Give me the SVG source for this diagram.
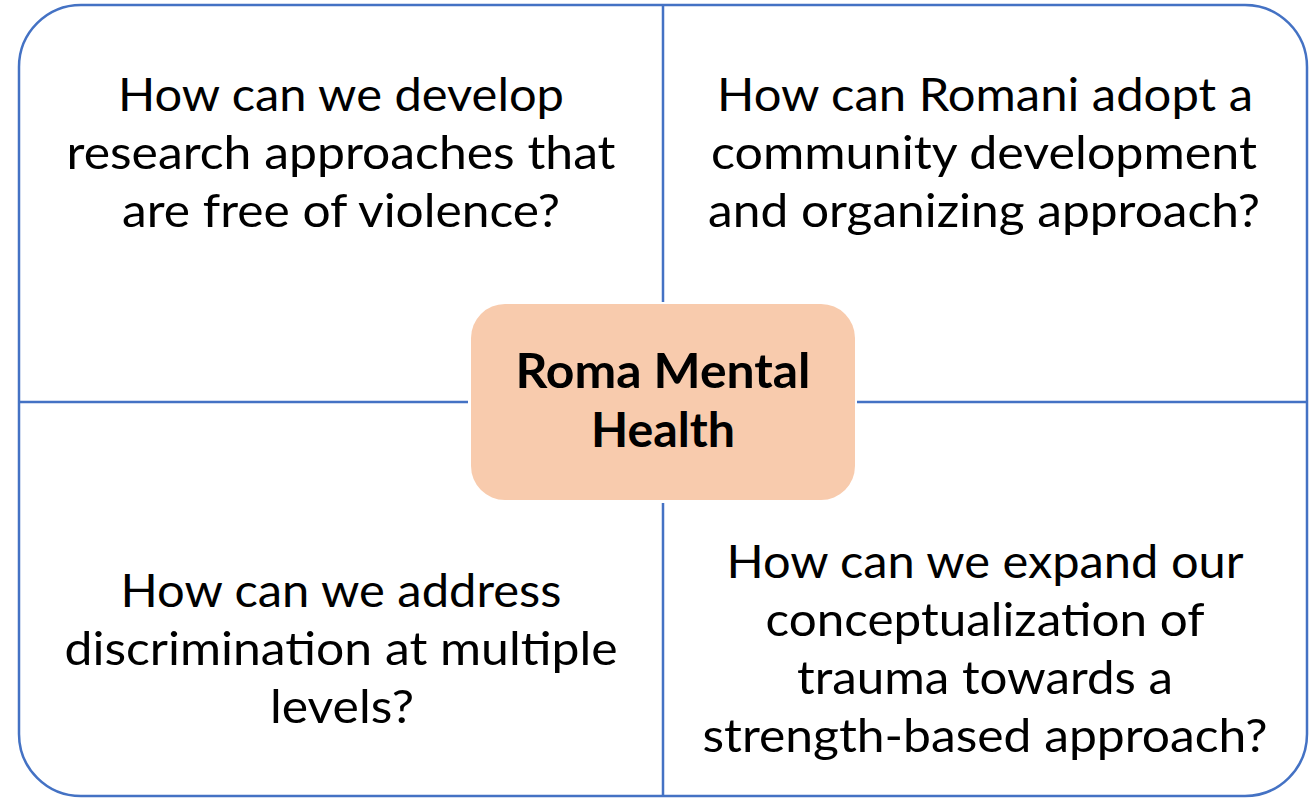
<svg xmlns="http://www.w3.org/2000/svg" width="1312" height="799" viewBox="0 0 1312 799">
<style>
.frame{fill:#FFFFFF;stroke:#4472C4;stroke-width:2.5}
.conn{stroke:#4472C4;stroke-width:2.5;fill:none}
.q{font-family:Lato,"Liberation Sans",sans-serif;font-size:47px;fill:#000;text-anchor:middle}
.c{font-family:Lato,"Liberation Sans",sans-serif;font-size:47px;font-weight:bold;fill:#000;text-anchor:middle}
.hub{fill:#F8CBAD}
</style>
<rect class="frame" x="19" y="5" width="1288" height="791" rx="62" ry="62"/>
<g id="connectors">
<line class="conn" x1="663" y1="5" x2="663" y2="302"/>
<line class="conn" x1="663" y1="503" x2="663" y2="796"/>
<line class="conn" x1="19" y1="402" x2="468" y2="402"/>
<line class="conn" x1="857" y1="402" x2="1307" y2="402"/>
</g>
<g id="q-top-left">
<text class="q" x="341" y="111" textLength="446" lengthAdjust="spacingAndGlyphs">How can we develop</text>
<text class="q" x="341" y="169" textLength="549" lengthAdjust="spacingAndGlyphs">research approaches that</text>
<text class="q" x="341" y="227" textLength="438" lengthAdjust="spacingAndGlyphs">are free of violence?</text>
</g>
<g id="q-top-right">
<text class="q" x="985" y="111" textLength="536" lengthAdjust="spacingAndGlyphs">How can Romani adopt a</text>
<text class="q" x="984" y="169" textLength="546" lengthAdjust="spacingAndGlyphs">community development</text>
<text class="q" x="984" y="227" textLength="552" lengthAdjust="spacingAndGlyphs">and organizing approach?</text>
</g>
<g id="q-bottom-left">
<text class="q" x="341" y="607" textLength="441" lengthAdjust="spacingAndGlyphs">How can we address</text>
<text class="q" x="341" y="665" textLength="553" lengthAdjust="spacingAndGlyphs">discrimination at multiple</text>
<text class="q" x="342" y="723" textLength="144" lengthAdjust="spacingAndGlyphs">levels?</text>
</g>
<g id="q-bottom-right">
<text class="q" x="985" y="578" textLength="517" lengthAdjust="spacingAndGlyphs">How can we expand our</text>
<text class="q" x="985" y="636" textLength="439" lengthAdjust="spacingAndGlyphs">conceptualization of</text>
<text class="q" x="985" y="694" textLength="376" lengthAdjust="spacingAndGlyphs">trauma towards a</text>
<text class="q" x="985" y="752" textLength="565" lengthAdjust="spacingAndGlyphs">strength-based approach?</text>
</g>
<g id="hub">
<rect class="hub" x="471" y="304" width="384" height="196" rx="34" ry="34"/>
<text class="c" x="663" y="388" textLength="295" lengthAdjust="spacingAndGlyphs">Roma Mental</text>
<text class="c" x="663" y="447" textLength="144" lengthAdjust="spacingAndGlyphs">Health</text>
</g>
</svg>
